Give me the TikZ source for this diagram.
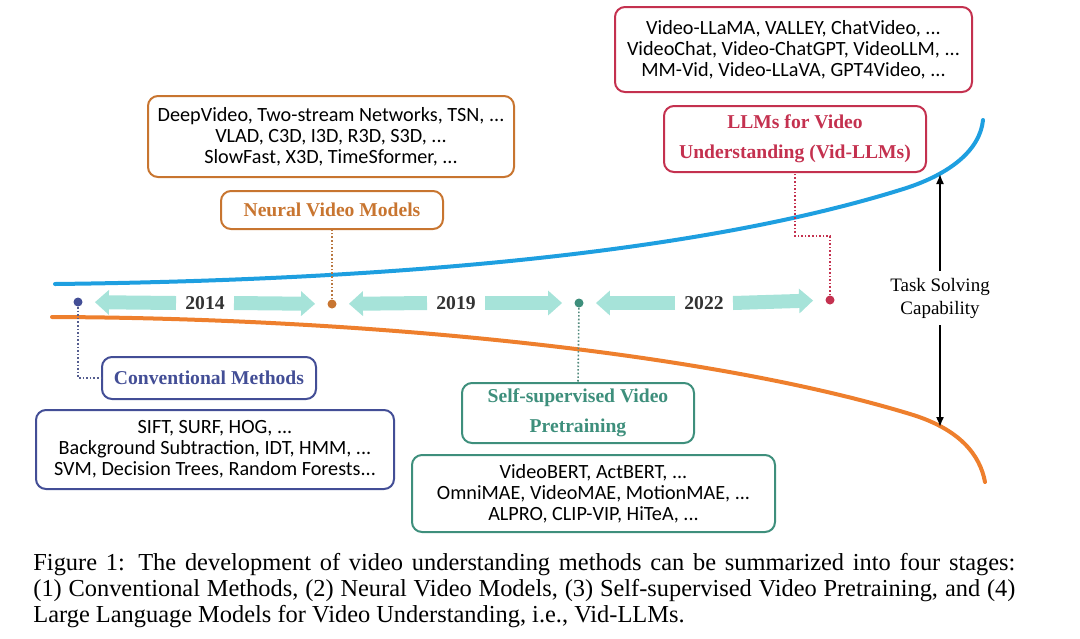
\documentclass[tikz,border=0pt]{standalone}
\usepackage{fontspec}
\setmainfont{Liberation Serif}
\newfontfamily\listfont{Carlito}
\usetikzlibrary{arrows.meta,positioning}

\definecolor{bluec}{HTML}{1E9FE0}
\definecolor{orngc}{HTML}{EE7F2D}
\definecolor{arw}{HTML}{A6E3D9}
\definecolor{nvm}{HTML}{C87530}
\definecolor{llm}{HTML}{C4314F}
\definecolor{cvm}{HTML}{434E96}
\definecolor{ssv}{HTML}{3E8F7C}

\begin{document}
\begin{tikzpicture}[x=0.5pt,y=-0.5pt,
    lst/.style={draw=#1, rounded corners=5pt, line width=1pt, align=center,
      font=\listfont\fontsize{10.1}{10.6}\selectfont, inner sep=0pt},
    lbl/.style={draw=#1, text=#1, rounded corners=5pt, line width=1pt, align=center,
      font=\bfseries\fontsize{9.8}{15}\selectfont, inner sep=0pt},
    yr/.style={line width=7pt, draw=arw, -{Triangle[width=12pt,length=7pt]}, shorten >=6pt},
    ynum/.style={font=\bfseries\fontsize{9.8}{11}\selectfont, text=black!80, inner xsep=4.5pt},
    tdot/.style={circle, fill=#1, inner sep=0pt, minimum size=4.5pt},
    lnk/.style={densely dotted, line width=0.8pt, draw=#1},
    trend/.style={line width=2pt, line cap=round}]
  \useasboundingbox (0,0) rectangle (1080,638);

  % the two trend curves
  \draw[trend, draw=bluec] (55,284) .. controls (400,280) and (700,252) .. (900,190)
    .. controls (950,175) and (980,150) .. (983,120);
  \draw[trend, draw=orngc] (52,317) .. controls (350,318) and (700,350) .. (910,414)
    .. controls (960,429) and (980,455) .. (985,482);

  % timeline
  \node[tdot=cvm] (d1) at (78,302) {};
  \node[tdot=nvm] (d2) at (332,304) {};
  \node[tdot=ssv] (d3) at (579,303) {};
  \node[tdot=llm] (d4) at (830,300) {};

  \node[ynum] (y14) at (205,303) {2014};
  \node[ynum] (y19) at (456,303) {2019};
  \node[ynum] (y22) at (704,303) {2022};

  \draw[yr] (y14.west) -- (d1);
  \draw[yr] (y14.east) -- (d2);
  \draw[yr] (y19.west) -- (d2);
  \draw[yr] (y19.east) -- (d3);
  \draw[yr] (y22.west) -- (d3);
  \draw[yr] (y22.east) -- (d4);

  % stage labels
  \node[lbl=cvm, minimum width=107pt, minimum height=21pt] (conv) at (209,378) {Conventional Methods};
  \node[lbl=nvm, minimum width=111pt, minimum height=19pt] (neural) at (332,210) {Neural Video Models};
  \node[lbl=ssv, minimum width=116pt, minimum height=30pt] (ssl) at (578,413) {Self-supervised Video\\Pretraining};
  \node[lbl=llm, minimum width=131pt, minimum height=33pt] (vllm) at (795,139) {LLMs for Video\\Understanding (Vid-LLMs)};

  % method lists
  \node[lst=cvm, minimum width=179pt, minimum height=39.5pt] (convl) at (215,449.5)
    {SIFT, SURF, HOG, ...\\Background Subtraction, IDT, HMM, ...\\SVM, Decision Trees, Random Forests...};
  \node[lst=nvm, minimum width=183pt, minimum height=40.5pt] (neurall) at (331,136.5)
    {DeepVideo, Two-stream Networks, TSN, ...\\VLAD, C3D, I3D, R3D, S3D, ...\\SlowFast, X3D, TimeSformer, ...};
  \node[lst=ssv, minimum width=181.5pt, minimum height=38.5pt] (ssll) at (593.5,493.5)
    {VideoBERT, ActBERT, ...\\OmniMAE, VideoMAE, MotionMAE, ...\\ALPRO, CLIP-VIP, HiTeA, ...};
  \node[lst=llm, minimum width=178.5pt, minimum height=42.5pt] (vllml) at (793.5,49.5)
    {Video-LLaMA, VALLEY, ChatVideo, ...\\VideoChat, Video-ChatGPT, VideoLLM, ...\\MM-Vid, Video-LLaVA, GPT4Video, ...};

  % dotted links
  \coordinate (bend) at (830,236);
  \draw[lnk=cvm!70!gray] (d1) |- (conv.west);
  \draw[lnk=nvm!80!gray] (d2) -- (neural.south);
  \draw[lnk=ssv!70!gray] (d3) -- (ssl.north);
  \draw[lnk=llm] (d4) -- (bend) -| (vllm.south);

  % capability axis
  \node[align=center, font=\fontsize{9.5}{11.5}\selectfont] (task) at (940,298) {Task Solving\\Capability};
  \coordinate (tup) at (940,174);
  \coordinate (tdn) at (940,427);
  \draw[-{Latex[length=5pt,width=4pt]}, line width=0.8pt] (task.north) -- (tup);
  \draw[-{Latex[length=5pt,width=4pt]}, line width=0.8pt] (task.south) -- (tdn);

  % caption
  \node[anchor=north west, inner sep=0pt, text width=491pt, align=justify,
    font=\fontsize{12.2}{13}\selectfont] (cap) at (33,553)
    {Figure 1: The development of video understanding methods can be summarized into four stages:\linebreak
     (1) Conventional Methods, (2) Neural Video Models, (3) Self-supervised Video Pretraining, and (4)\linebreak
     Large Language Models for Video Understanding, i.e., Vid-LLMs.};
\end{tikzpicture}
\end{document}
